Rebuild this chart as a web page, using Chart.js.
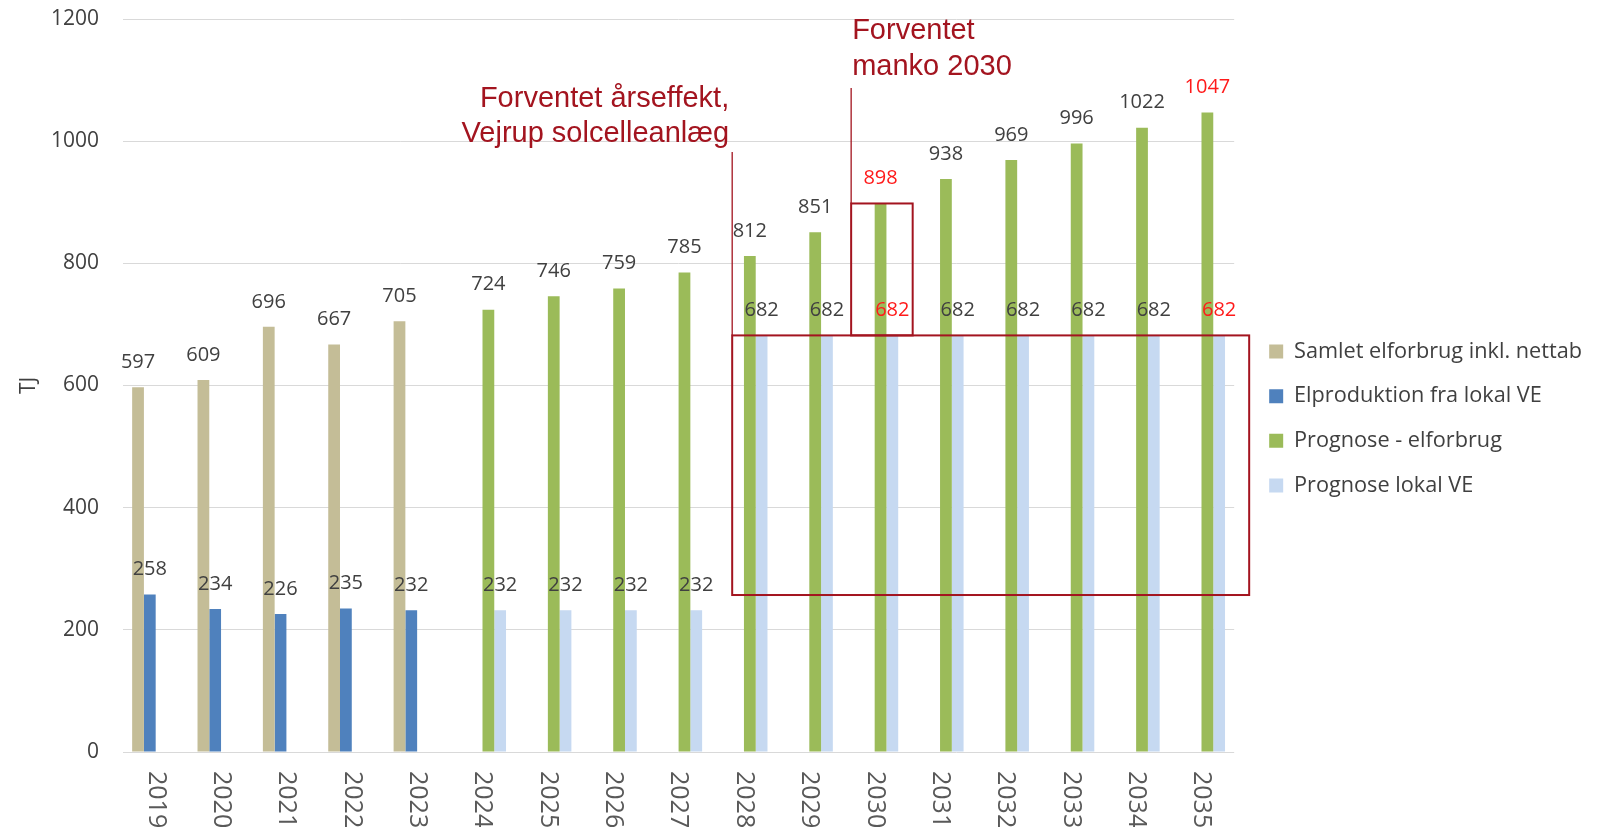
<!DOCTYPE html>
<html>
<head>
<meta charset="utf-8">
<script src="https://cdn.jsdelivr.net/npm/chart.js@4.4.1/dist/chart.umd.min.js"></script>
<style>
html, body { margin: 0; padding: 0; background: #fff; }
#wrap { width: 1601px; height: 827px; }
</style>
</head>
<body>
<div id="wrap"><canvas id="elChart" width="1601" height="827"></canvas></div>
<script>
/* ===== Data ===== */
const YEARS = ['2019', '2020', '2021', '2022', '2023', '2024', '2025', '2026', '2027',
               '2028', '2029', '2030', '2031', '2032', '2033', '2034', '2035'];
const SAMLET_ELFORBRUG = [597, 609, 696, 667, 705, null, null, null, null, null, null, null, null, null, null, null, null];
const ELPRODUKTION_VE = [258, 234, 226, 235, 232, null, null, null, null, null, null, null, null, null, null, null, null];
const PROGNOSE_ELFORBRUG = [null, null, null, null, null, 724, 746, 759, 785, 812, 851, 898, 938, 969, 996, 1022, 1047];
const PROGNOSE_LOKAL_VE = [null, null, null, null, null, 232, 232, 232, 232, 682, 682, 682, 682, 682, 682, 682, 682];
const RED_YEARS = ['2030', '2035'];
const Y_TICKS = [0, 200, 400, 600, 800, 1000, 1200];

// annotation anchors (category + values)
const ANNUAL_FROM = '2028', ANNUAL_TOP = 682, ANNUAL_BOTTOM = 257;
const MANKO_YEAR = '2030', MANKO_TOP = 898, MANKO_BOTTOM = 682;

const FONT = "'Open Sans', sans-serif";
const RED_DARK = '#a3141f';
const CAT_PCT = 0.72;

Chart.defaults.font.family = FONT;
Chart.defaults.color = '#404040';

/* ===== Plugins ===== */
const valueLabels = {
    id: 'valueLabels',
    afterDatasetsDraw(chart) {
        const ctx = chart.ctx;
        ctx.save();
        ctx.font = '20px ' + FONT;
        ctx.textAlign = 'center';
        ctx.textBaseline = 'middle';
        chart.data.datasets.forEach((ds, di) => {
            chart.getDatasetMeta(di).data.forEach((bar, i) => {
                const v = ds.data[i];
                if (v == null) return;
                const red = ds.forecast && RED_YEARS.includes(YEARS[i]);
                ctx.fillStyle = red ? '#ff1a1a' : '#404040';
                ctx.fillText(String(v), bar.x, bar.y - 25);
            });
        });
        ctx.restore();
    }
};

const rotatedYears = {
    id: 'rotatedYears',
    afterDraw(chart) {
        const xs = chart.scales.x, ctx = chart.ctx;
        ctx.save();
        ctx.font = '25px ' + FONT;
        ctx.fillStyle = '#595959';
        ctx.textAlign = 'left';
        ctx.textBaseline = 'middle';
        YEARS.forEach((yr, i) => {
            ctx.save();
            ctx.translate(xs.getPixelForValue(i), xs.top + 19);
            ctx.rotate(Math.PI / 2);
            ctx.fillText(yr, 0, 0);
            ctx.restore();
        });
        ctx.restore();
    }
};

// push the legend a bit away from the plot area
const legendGap = {
    id: 'legendGap',
    afterLayout(chart) {
        const lg = chart.legend;
        lg.left += 12; lg.right += 12;
        lg.top += 5; lg.bottom += 5;
    }
};

const annotations = {
    id: 'annotations',
    afterDraw(chart) {
        const { ctx, chartArea, scales: { x, y } } = chart;
        const slot = (x.getPixelForValue(1) - x.getPixelForValue(0)) * CAT_PCT / 4;
        ctx.save();
        ctx.strokeStyle = RED_DARK;
        ctx.fillStyle = RED_DARK;

        // annual effect box
        const bx0 = x.getPixelForValue(YEARS.indexOf(ANNUAL_FROM)) - slot;
        const bx1 = chartArea.right + 15;
        const by0 = y.getPixelForValue(ANNUAL_TOP);
        const by1 = y.getPixelForValue(ANNUAL_BOTTOM);
        ctx.lineWidth = 2;
        ctx.strokeRect(bx0, by0, bx1 - bx0, by1 - by0);

        // manko box
        const mc = x.getPixelForValue(YEARS.indexOf(MANKO_YEAR));
        const mx0 = mc - 2 * slot, mx1 = mc + 38;
        const my0 = y.getPixelForValue(MANKO_TOP), my1 = y.getPixelForValue(MANKO_BOTTOM);
        ctx.strokeRect(mx0, my0, mx1 - mx0, my1 - my0);

        // leader lines
        ctx.lineWidth = 1.3;
        ctx.beginPath();
        ctx.moveTo(bx0, 152); ctx.lineTo(bx0, by0);
        ctx.moveTo(mx0, 88); ctx.lineTo(mx0, my0);
        ctx.stroke();

        ctx.font = "29px 'Liberation Sans', Arial, sans-serif";
        ctx.textBaseline = 'alphabetic';
        ctx.textAlign = 'right';
        ctx.fillText('Forventet årseffekt,', bx0 - 3, 107);
        ctx.fillText('Vejrup solcelleanlæg', bx0 - 3, 142);
        ctx.textAlign = 'left';
        ctx.fillText('Forventet', mx0 + 1, 39);
        ctx.fillText('manko 2030', mx0 + 1, 75);
        ctx.restore();
    }
};

/* ===== Chart ===== */
const bar = (label, data, color, forecast) => ({
    label, data, backgroundColor: color, borderWidth: 0, forecast,
    categoryPercentage: CAT_PCT, barPercentage: 1.0
});

new Chart(document.getElementById('elChart'), {
    type: 'bar',
    data: {
        labels: YEARS,
        datasets: [
            bar('Samlet elforbrug inkl. nettab', SAMLET_ELFORBRUG, '#c4bd97', false),
            bar('Elproduktion fra lokal VE', ELPRODUKTION_VE, '#4f81bd', false),
            bar('Prognose - elforbrug', PROGNOSE_ELFORBRUG, '#9bbb59', true),
            bar('Prognose lokal VE', PROGNOSE_LOKAL_VE, '#c6d9f1', true)
        ]
    },
    options: {
        responsive: false,
        animation: false,
        layout: { padding: { top: 0, right: 21, left: 0, bottom: 0 } },
        plugins: {
            tooltip: { enabled: false },
            legend: {
                position: 'right',
                labels: {
                    boxWidth: 14, boxHeight: 14, padding: 23,
                    color: '#404040', font: { size: 21.7, family: FONT }
                }
            }
        },
        scales: {
            x: {
                grid: { display: false },
                border: { display: false },
                ticks: { display: false },
                afterFit: s => { s.height = 75; }
            },
            y: {
                min: 0, max: 1200,
                afterBuildTicks: s => { s.ticks = Y_TICKS.map(v => ({ value: v })); },
                grid: { color: '#d9d9d9', drawTicks: false },
                border: { display: false },
                ticks: { padding: 24, color: '#404040', font: { size: 21 }, callback: v => String(v) },
                title: { display: true, text: 'TJ', color: '#404040', font: { size: 21 }, padding: { top: 16 } },
                afterFit: s => { s.width = 123; s.paddingTop = 19; s.paddingBottom = 0; }
            }
        }
    },
    plugins: [valueLabels, annotations, rotatedYears, legendGap]
});
</script>
</body>
</html>
